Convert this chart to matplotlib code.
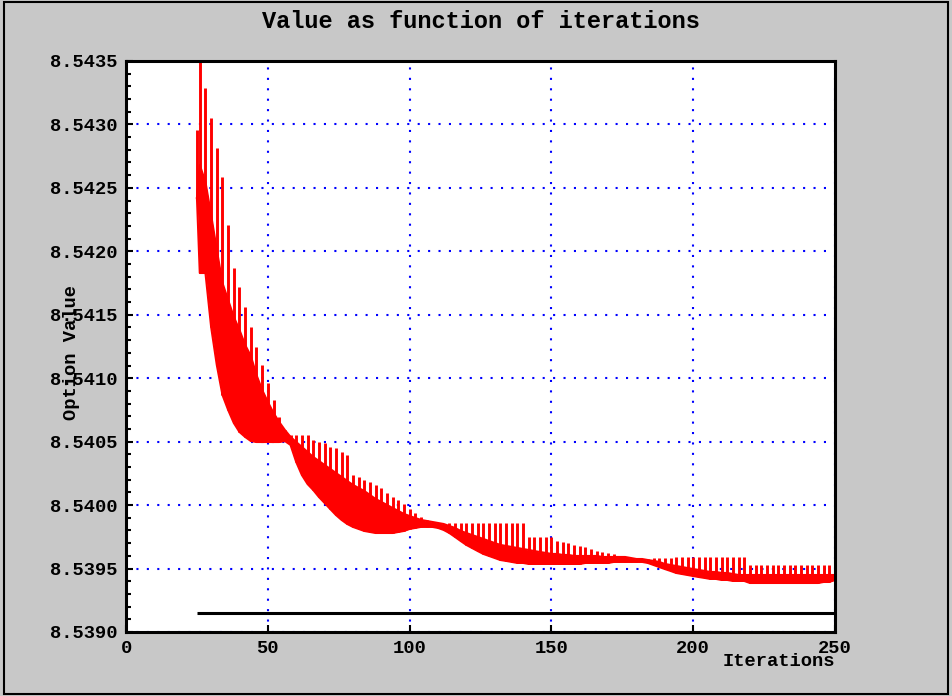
import numpy as np
import matplotlib.pyplot as plt
from matplotlib.patches import Rectangle
from matplotlib.ticker import MultipleLocator, FormatStrFormatter

# first point, then one spike every second iteration
iters = [25] + list(range(26, 251, 2))

# values in millionths above 8.5390
base = 8.5390
spike_top_u = [
    3956, 4550, 4287, 4051, 3814, 3586, 3208, 2869, 2719, 2561,
    2404, 2246, 2104, 1962, 1828, 1694, 1592, 1553, 1553, 1553,
    1553, 1513, 1497, 1490, 1458, 1450, 1419, 1395, 1237, 1222,
    1198, 1182, 1159, 1135, 1095, 1064, 1040, 1009, 969, 938,
    906, 883, 851, 835, 843, 859, 859, 859, 859, 859,
    859, 859, 859, 859, 859, 859, 859, 859, 859, 749,
    749, 749, 749, 749, 717, 709, 701, 686, 678, 670,
    654, 638, 630, 623, 615, 599, 591, 575, 567, 567,
    575, 583, 583, 583, 583, 591, 591, 591, 591, 591,
    591, 591, 591, 591, 591, 591, 591, 591, 528, 528,
    528, 528, 528, 528, 528, 528, 528, 528, 528, 528,
    528, 528, 528, 528,
]
band_high_u = [
    3420, 3680, 3546, 3286, 3011, 2750, 2616, 2483, 2380, 2262,
    2175, 2025, 1907, 1813, 1726, 1655, 1592, 1537, 1497, 1458,
    1419, 1379, 1348, 1316, 1285, 1253, 1222, 1190, 1159, 1135,
    1111, 1080, 1048, 1025, 1001, 977, 954, 930, 914, 898,
    883, 875, 867, 859, 851, 835, 820, 796, 780, 764,
    749, 733, 717, 701, 686, 678, 670, 662, 654, 646,
    638, 630, 623, 615, 615, 607, 607, 599, 599, 599,
    599, 599, 591, 591, 591, 591, 591, 583, 575, 575,
    567, 560, 552, 536, 528, 520, 512, 504, 496, 489,
    481, 473, 473, 465, 465, 457, 449, 449, 449, 449,
    449, 449, 449, 449, 449, 449, 449, 449, 449, 449,
    449, 449, 449, 449,
]
band_low_u = [
    3420, 2829, 2829, 2404, 2104, 1868, 1750, 1647, 1576, 1537,
    1505, 1497, 1497, 1497, 1497, 1497, 1505, 1474, 1340, 1237,
    1166, 1119, 1064, 1017, 969, 922, 883, 851, 828, 812,
    796, 788, 780, 780, 780, 780, 788, 796, 812, 820,
    828, 828, 828, 820, 804, 780, 749, 717, 686, 662,
    638, 615, 599, 583, 567, 560, 552, 544, 544, 536,
    536, 536, 536, 536, 536, 536, 536, 536, 536, 544,
    544, 544, 544, 544, 552, 552, 552, 552, 552, 552,
    544, 528, 512, 496, 481, 465, 457, 449, 441, 433,
    426, 418, 418, 410, 410, 402, 402, 402, 386, 386,
    386, 386, 386, 386, 386, 386, 386, 386, 386, 386,
    386, 394, 394, 410,
]
limit_value = 8.53915

spike_top = base + np.array(spike_top_u) * 1e-6
band_high = base + np.array(band_high_u) * 1e-6
band_low = base + np.array(band_low_u) * 1e-6

font = 'Liberation Mono'
bg = '#c8c8c8'

fig = plt.figure(figsize=(9.52, 6.96), dpi=100, facecolor=bg)
fig.patches.append(Rectangle((4 / 952, 2 / 696), 944 / 952, 692 / 696,
                             transform=fig.transFigure, fill=False,
                             edgecolor='black', linewidth=1.5))

ax = fig.add_axes([0.1324, 0.0920, 0.7447, 0.8204])
ax.set_facecolor('white')

ax.fill_between(iters, band_low, band_high, color='red', linewidth=0)
ax.plot(iters, band_low, color='red', linewidth=1.5)
ax.plot(iters, band_high, color='red', linewidth=1.5)
ax.vlines(iters, band_low, spike_top, color='red', linewidth=2.1)
ax.hlines(limit_value, 25, 250, color='black', linewidth=2.2)

ax.set_xlim(0, 250)
ax.set_ylim(8.5390, 8.5435)
ax.xaxis.set_major_locator(MultipleLocator(50))
ax.yaxis.set_major_locator(MultipleLocator(0.0005))
ax.yaxis.set_minor_locator(MultipleLocator(0.0001))
ax.yaxis.set_major_formatter(FormatStrFormatter('%.4f'))

ax.set_axisbelow(True)
ax.grid(True, which='major', color='blue', linestyle=(0, (1, 4)), linewidth=1.5)

for s in ax.spines.values():
    s.set_linewidth(2.2)
    s.set_color('black')

ax.tick_params(which='both', direction='in', top=False, right=False, width=1.5)
ax.tick_params(which='major', length=5, pad=6)
ax.tick_params(which='minor', length=3.5)
for lab in ax.get_xticklabels() + ax.get_yticklabels():
    lab.set_fontfamily(font)
    lab.set_fontweight('bold')
    lab.set_fontsize(13.5)

fig.text(480.5 / 952, 1 - 21 / 696, 'Value as function of iterations',
         ha='center', va='center', fontfamily=font, fontweight='bold', fontsize=17)
fig.text(835 / 952, 1 - 662 / 696, 'Iterations', ha='right', va='center',
         fontfamily=font, fontweight='bold', fontsize=13.5)
fig.text(72 / 952, 1 - 352 / 696, 'Option Value', ha='center', va='center',
         rotation=90, fontfamily=font, fontweight='bold', fontsize=13.5)

fig.savefig('out.png', dpi=100, facecolor=fig.get_facecolor())
